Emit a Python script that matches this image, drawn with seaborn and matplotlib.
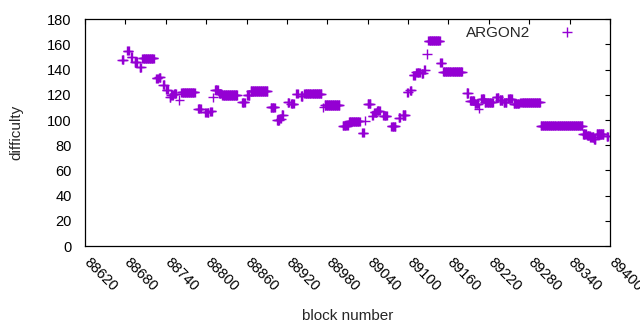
import numpy as np
import pandas as pd
import matplotlib
matplotlib.use("Agg")
import matplotlib.pyplot as plt
import matplotlib.transforms as mtransforms
import seaborn as sns

# runs of blocks with the same difficulty (start block, end block, value)
run_start = [88675, 88683, 88689, 88694, 88701, 88705, 88726, 88730, 88736, 88741,
             88746, 88748, 88752, 88760, 88763, 88788, 88799, 88806, 88810, 88813,
             88819, 88824, 88853, 88861, 88866, 88896, 88905, 88910, 88912, 88921,
             88926, 88934, 88941, 88946, 88974, 88976, 89003, 89012, 89032, 89036,
             89040, 89047, 89050, 89054, 89063, 89075, 89086, 89092, 89099, 89103,
             89108, 89112, 89120, 89124, 89128, 89130, 89148, 89152, 89187, 89192,
             89199, 89205, 89209, 89214, 89231, 89236, 89242, 89249, 89257, 89267,
             89297, 89360, 89366, 89371, 89376, 89380, 89395]
run_end = [88677, 88685, 88690, 88697, 88703, 88722, 88728, 88732, 88738, 88743,
           88747, 88750, 88755, 88760, 88783, 88792, 88803, 88808, 88810, 88817,
           88822, 88846, 88857, 88864, 88891, 88902, 88908, 88911, 88914, 88923,
           88930, 88936, 88943, 88971, 88974, 88998, 89010, 89028, 89034, 89036,
           89044, 89048, 89053, 89058, 89068, 89081, 89088, 89096, 89100, 89105,
           89110, 89117, 89122, 89125, 89128, 89147, 89150, 89180, 89189, 89198,
           89204, 89205, 89213, 89226, 89234, 89240, 89246, 89254, 89265, 89296,
           89359, 89364, 89370, 89375, 89378, 89390, 89397]
run_value = [148, 155, 150, 146, 142, 149, 133, 134, 128, 124,
             118, 120, 121, 116, 122, 109, 106, 107, 118, 124,
             121, 120, 114, 120, 123, 110, 100, 101, 104, 114,
             113, 121, 119, 121, 110, 112, 95.5, 99, 90, 99.5,
             113, 103.5, 106, 107.5, 103.5, 95, 102, 104, 122, 123.5,
             135.5, 138, 137, 140, 152.5, 163, 145.5, 138.5, 121.5, 115.5,
             113, 109, 117, 114, 118, 116, 114, 117, 113, 114,
             95.5, 89, 88, 86.5, 85, 89, 87]

xticks = list(range(88620, 89401, 60))
yticks = list(range(0, 181, 20))

blocks = np.concatenate([np.arange(s, e + 1) for s, e in zip(run_start, run_end)])
diffs = np.concatenate([np.full(e - s + 1, v) for s, e, v in zip(run_start, run_end, run_value)])
df = pd.DataFrame({"block": blocks, "difficulty": diffs, "algo": "ARGON2"})

sns.set_style("white")
plt.rcParams["font.family"] = ["Liberation Sans", "DejaVu Sans"]

fig = plt.figure(figsize=(6.4, 3.3), dpi=100)
ax = fig.add_axes([85 / 640, 1 - 246 / 330, 525 / 640, 226.7 / 330])

sns.scatterplot(data=df, x="block", y="difficulty", hue="algo", palette=["#9400D3"],
                marker="+", s=45, linewidth=1.0, ax=ax)

ax.set_xlim(88620, 89400)
ax.set_ylim(0, 180)
ax.set_xticks(xticks)
ax.set_yticks(yticks)
ax.set_xticklabels([str(t) for t in xticks], rotation=-45, ha="left", va="top",
                   rotation_mode="anchor")
ax.tick_params(direction="in", length=3.5, width=0.8, top=True, right=True,
               labelsize=10.5, colors="black")
ax.tick_params(axis="y", pad=9.5)
ax.tick_params(axis="x", pad=7)
# nudge rotated x labels so they start right under the tick
shift = mtransforms.ScaledTranslation(6 / 100, 1 / 100, fig.dpi_scale_trans)
for lab in ax.get_xticklabels():
    lab.set_transform(lab.get_transform() + shift)
for sp in ax.spines.values():
    sp.set_visible(True)
    sp.set_color("black")
    sp.set_linewidth(0.9)

ax.set_xlabel("block number", fontsize=11)
ax.set_ylabel("difficulty", fontsize=11)
ax.xaxis.set_label_coords(0.5, -0.278)
ax.yaxis.set_label_coords(-0.118, 0.5)

ax.legend(loc="upper right", markerfirst=False, frameon=False, fontsize=11,
          handletextpad=1.35, borderaxespad=0, bbox_to_anchor=(0.958, 0.998))

fig.savefig("out.png", dpi=100)
